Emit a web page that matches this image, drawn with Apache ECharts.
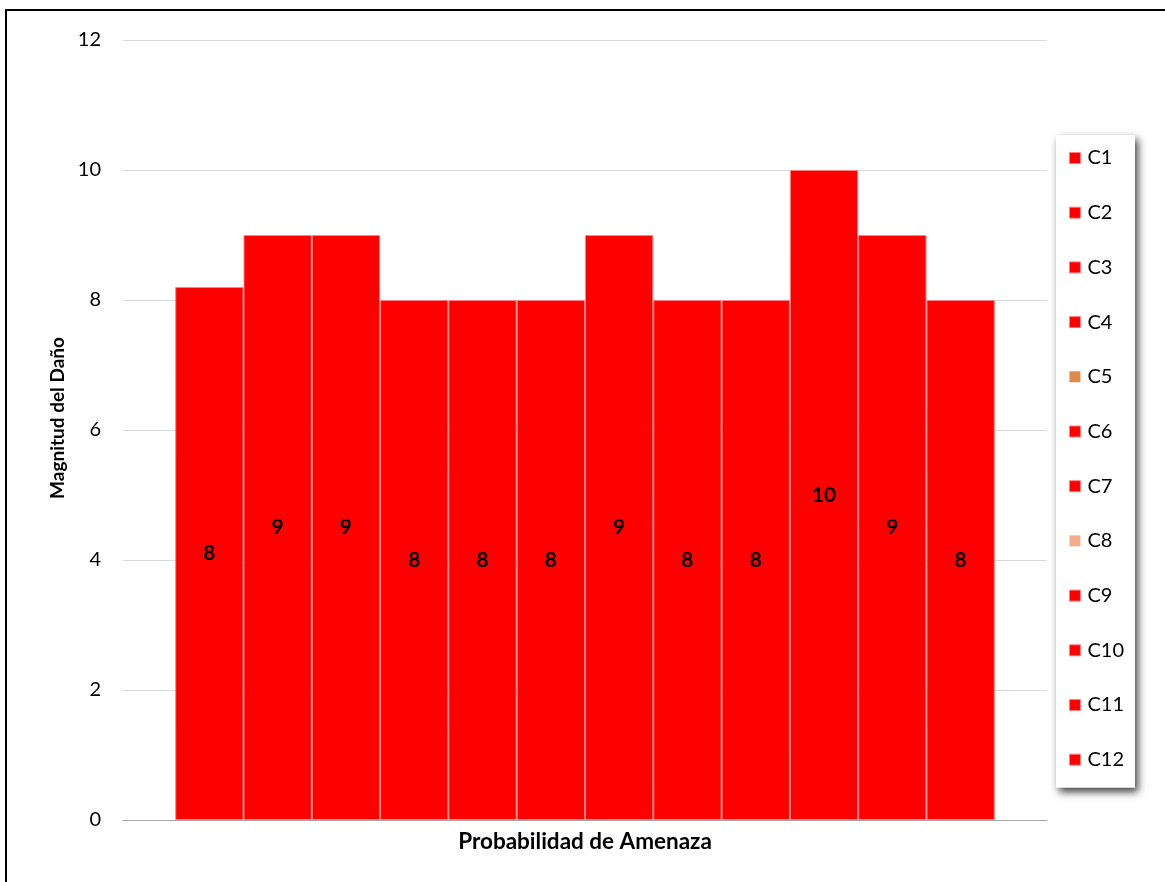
<!DOCTYPE html>
<html>
<head>
<meta charset="utf-8">
<script src="https://cdn.jsdelivr.net/npm/echarts@6/dist/echarts.min.js"></script>
<style>
html,body{margin:0;padding:0;background:#fff;}
#chart{width:1165px;height:882px;}
</style>
</head>
<body>
<div id="chart"></div>
<script>
// Series names (one bar each) and their heights
const seriesNames = ['C1','C2','C3','C4','C5','C6','C7','C8','C9','C10','C11','C12'];
const seriesValues = [8.2, 9, 9, 8, 8, 8, 9, 8, 8, 10, 9, 8];
// Legend swatch colours (C5 and C8 use lighter swatches)
const legendColors = ['#ff0000','#ff0000','#ff0000','#ff0000','#e0894f','#ff0000','#ff0000','#f2ae8c','#ff0000','#ff0000','#ff0000','#ff0000'];
const categories = [''];
const yTicks = { min: 0, max: 12, interval: 2 };

const FONT = 'Lato, "Open Sans", "Liberation Sans", sans-serif';

const series = seriesNames.map((name, i) => ({
  name: name,
  type: 'bar',
  data: [seriesValues[i]],
  barGap: '0%',
  barCategoryGap: '11.3%',
  itemStyle: { color: '#ff0000', borderColor: '#ff8080', borderWidth: 1 },
  label: {
    show: true,
    position: 'inside',
    color: '#000',
    fontWeight: 'bold',
    fontSize: 21,
    fontFamily: FONT,
    formatter: p => Math.round(p.value)
  }
}));

const chart = echarts.init(document.getElementById('chart'), null, { renderer: 'canvas' });
chart.setOption({
  animation: false,
  backgroundColor: '#fff',
  textStyle: { fontFamily: FONT },
  grid: { left: 123, right: 118, top: 40, bottom: 62, containLabel: false },
  graphic: [{
    type: 'rect',
    shape: { x: 6, y: 10, width: 1180, height: 900 },
    style: { fill: 'none', stroke: '#000', lineWidth: 2 },
    silent: true
  }],
  legend: {
    orient: 'vertical',
    right: 30,
    top: 135,
    backgroundColor: '#fff',
    padding: [13, 11, 18, 13],
    itemGap: 34.7,
    itemWidth: 11,
    itemHeight: 11,
    icon: 'rect',
    shadowBlur: 8,
    shadowColor: 'rgba(0,0,0,0.75)',
    shadowOffsetX: 3,
    shadowOffsetY: 4,
    textStyle: { fontSize: 20, lineHeight: 20, color: '#000', fontFamily: FONT, padding: [0, 0, 0, 2] },
    data: seriesNames.map((n, i) => ({ name: n, itemStyle: { color: legendColors[i], borderColor: '#ff8080', borderWidth: legendColors[i] === '#ff0000' ? 1 : 0 } }))
  },
  xAxis: {
    type: 'category',
    data: categories,
    name: 'Probabilidad de Amenaza',
    nameLocation: 'middle',
    nameGap: 10,
    nameTextStyle: { fontSize: 22.5, fontWeight: 'bold', color: '#000', fontFamily: FONT },
    axisLine: { show: true, lineStyle: { color: '#a6a6a6', width: 1 } },
    axisTick: { show: false },
    axisLabel: { show: false }
  },
  yAxis: {
    type: 'value',
    min: yTicks.min,
    max: yTicks.max,
    interval: yTicks.interval,
    name: 'Magnitud del Daño',
    nameLocation: 'middle',
    nameGap: 55,
    nameTextStyle: { fontSize: 19, fontWeight: 'bold', color: '#000', fontFamily: FONT, padding: [0, 0, 0, 24] },
    axisLine: { show: false },
    axisTick: { show: false },
    axisLabel: { fontSize: 20, color: '#000', margin: 22, fontFamily: FONT },
    splitLine: { lineStyle: { color: '#d9d9d9', width: 1 } }
  },
  series: series
});
</script>
</body>
</html>
